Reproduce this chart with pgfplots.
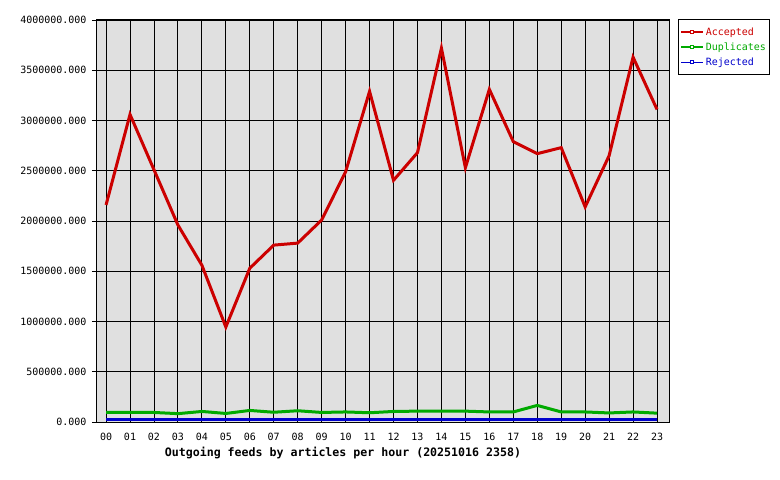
\documentclass[border=0pt]{standalone}
\usepackage{pgfplots}
\pgfplotsset{compat=1.18}
\usepackage{fontspec}
\setmainfont{DejaVu Sans Mono}
\definecolor{acc}{RGB}{204,0,0}
\definecolor{dup}{RGB}{0,170,0}
\definecolor{rej}{RGB}{0,0,204}
\definecolor{bg}{RGB}{224,224,224}
\begin{document}
\begin{tikzpicture}
\path[use as bounding box] (0,0) rectangle (780bp,480bp);
\begin{axis}[
  at={(96bp,58bp)}, anchor=south west,
  scale only axis, width=573bp, height=402bp,
  xmin=-0.42, xmax=23.5, ymin=0, ymax=4000000,
  xtick={0,...,23},
  xticklabels={00,01,02,03,04,05,06,07,08,09,10,11,12,13,14,15,16,17,18,19,20,21,22,23},
  ytick={0,500000,...,4000000},
  ytick pos=left,
  scaled y ticks=false,
  /pgf/number format/assume math mode=true,
  yticklabel style={xshift=-2bp,/pgf/number format/.cd,fixed,fixed zerofill,precision=3,1000 sep={}},
  xticklabel style={yshift=-4bp},
  ticklabel style={font=\fontsize{10bp}{12bp}\selectfont},
  grid=major,
  major grid style={black, line width=0.9bp},
  axis line style={black, line width=1bp},
  tick style={black, line width=0.9bp},
  tick align=outside, major tick length=4bp,
  xtick style={draw=none},
  axis background/.style={fill=bg},
  xlabel={\bfseries Outgoing feeds by articles per hour (20251016 2358)},
  xlabel style={font=\fontsize{11.6bp}{13bp}\selectfont, at={(axis description cs:0.431,0)}, anchor=north, yshift=-22bp},
  legend style={at={(axis description cs:1.0157,1.0025)}, anchor=north west,
    draw=black, line width=1bp, font=\fontsize{10bp}{12bp}\selectfont,
    inner xsep=2bp, inner ysep=6bp, row sep=2bp, cells={anchor=west}},
  legend image code/.code={
    \draw[#1, line width=1.3bp] (0bp,0bp) -- (22bp,0bp);
    \draw[#1, line width=0.6bp, fill=white] (9.5bp,-1.5bp) rectangle (12.5bp,1.5bp);
  },
]
\addplot[acc, line width=3bp, mark=none] coordinates {
(0,2160000)(1,3060000)(2,2510000)(3,1960000)(4,1560000)(5,945000)(6,1530000)(7,1760000)(8,1780000)(9,2010000)(10,2490000)(11,3290000)(12,2405000)(13,2680000)(14,3720000)(15,2530000)(16,3310000)(17,2790000)(18,2670000)(19,2730000)(20,2140000)(21,2650000)(22,3630000)(23,3110000)};
\addlegendentry{\textcolor{acc}{Accepted}}
\addplot[dup, line width=3bp, mark=none] coordinates {
(0,95000)(1,95000)(2,95000)(3,83000)(4,105000)(5,85000)(6,115000)(7,97000)(8,112000)(9,95000)(10,100000)(11,92000)(12,105000)(13,108000)(14,108000)(15,108000)(16,100000)(17,100000)(18,165000)(19,100000)(20,100000)(21,90000)(22,100000)(23,88000)};
\addlegendentry{\textcolor{dup}{Duplicates}}
\addplot[rej, line width=3bp, mark=none] coordinates {
(0,21000)(1,21000)(2,21000)(3,21000)(4,21000)(5,21000)(6,21000)(7,21000)(8,21000)(9,21000)(10,21000)(11,21000)(12,21000)(13,21000)(14,21000)(15,21000)(16,21000)(17,21000)(18,21000)(19,21000)(20,21000)(21,21000)(22,21000)(23,21000)};
\addlegendentry{\textcolor{rej}{Rejected}}
\end{axis}
\end{tikzpicture}
\end{document}
